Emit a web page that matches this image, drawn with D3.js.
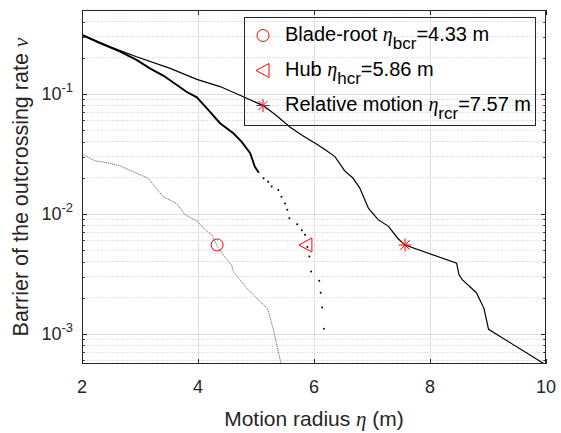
<!DOCTYPE html>
<html><head><meta charset="utf-8">
<script src="https://cdn.jsdelivr.net/npm/d3@7"></script>
<style>
body{margin:0;background:#fff}
svg{display:block}
text{font-family:"Liberation Sans",Arial,Helvetica,sans-serif;fill:#262626}
</style>
</head><body>
<svg id="c" width="561" height="433"></svg>
<script>
// ---------- data ----------
const xTicks = [2, 4, 6, 8, 10];
const yTicks = [1e-3, 1e-2, 1e-1];
const yTickExp = ["-3", "-2", "-1"];

// Relative motion curve
const relX = [2.0, 2.5, 2.94, 3.52, 3.98, 4.38, 4.84, 5.14, 5.35, 5.59, 5.8, 6.07, 6.2, 6.36, 6.53, 6.67, 6.79, 6.94, 7.11, 7.28, 7.45, 7.57, 8.46, 8.5, 8.56, 8.8, 8.93, 9.01, 10.0];
const relY = [0.31, 0.245, 0.204, 0.163, 0.132, 0.115, 0.092, 0.079, 0.066, 0.0527, 0.045, 0.0375, 0.034, 0.030, 0.0228, 0.0199, 0.0164, 0.0111, 0.0089, 0.0079, 0.0062, 0.0055, 0.00387, 0.0031, 0.00281, 0.0022, 0.00163, 0.00109, 0.00055];

// Hub curve: dense part (drawn as a thick line) and sparse points (dots)
const hubLineX = [2.0, 2.3, 2.66, 2.94, 3.17, 3.40, 3.63, 3.80, 3.98, 4.15, 4.38, 4.61, 4.75, 4.90, 4.98, 5.05];
const hubLineY = [0.31, 0.266, 0.225, 0.192, 0.163, 0.142, 0.119, 0.104, 0.0935, 0.0759, 0.0569, 0.0469, 0.040, 0.032, 0.0247, 0.022];
const hubDotX = [5.13, 5.21, 5.27, 5.385, 5.44, 5.50, 5.54, 5.575, 5.71, 5.79, 5.845, 5.885, 5.92, 5.95, 6.09, 6.115, 6.14, 6.17];
const hubDotY = [0.0198, 0.0185, 0.0169, 0.0158, 0.0139, 0.0122, 0.0108, 0.0092, 0.0082, 0.0073, 0.0067, 0.0053, 0.0044, 0.0033, 0.00277, 0.0022, 0.00166, 0.0011];

// Blade-root curve
const bladeX = [2.0, 2.22, 2.48, 2.66, 2.94, 3.14, 3.40, 3.63, 3.78, 4.0, 4.09, 4.24, 4.32, 4.44, 4.58, 4.61, 4.84, 5.04, 5.2, 5.30, 5.39, 5.45];
const bladeY = [0.0315, 0.0277, 0.0264, 0.0251, 0.0218, 0.0198, 0.0139, 0.0122, 0.0098, 0.0086, 0.0076, 0.0067, 0.0055, 0.0045, 0.00375, 0.0033, 0.0024, 0.00192, 0.00163, 0.00108, 0.00069, 0.00052];

// Critical markers
const markerNames = ["Blade-root ", "Hub ", "Relative motion "];
const markerSubs = ["bcr", "hcr", "rcr"];
const markerX = [4.33, 5.86, 7.57];
const markerY = [0.0055, 0.0055, 0.0055];
const markerShapes = ["circle", "triangle", "star"];

// ---------- layout ----------
const L = 82, R = 546, T = 10, B = 364;
const svg = d3.select("#c");
const x = d3.scaleLinear().domain([2, 10]).range([L, R]);
const y = d3.scaleLog().domain([5.6e-4, 0.5]).range([B, T]);
const axisColor = "#262626";

const minorY = [];
for (let e = -4; e <= -1; e++) for (let k = 2; k <= 9; k++) {
  const v = k * Math.pow(10, e);
  if (v >= y.domain()[0] && v <= y.domain()[1]) minorY.push(v);
}

// grid
const grid = svg.append("g");
grid.selectAll(".mg").data(minorY).enter().append("line")
  .attr("x1", L).attr("x2", R).attr("y1", d => y(d)).attr("y2", d => y(d))
  .attr("stroke", "#cfcfcf").attr("stroke-width", 1).attr("stroke-dasharray", "1 1.5");
grid.selectAll(".Mg").data(yTicks).enter().append("line")
  .attr("x1", L).attr("x2", R).attr("y1", d => Math.round(y(d)) + 0.5).attr("y2", d => Math.round(y(d)) + 0.5)
  .attr("stroke", "#dedede").attr("stroke-width", 1);
grid.selectAll(".Xg").data(xTicks.slice(1, -1)).enter().append("line")
  .attr("y1", T).attr("y2", B).attr("x1", d => Math.round(x(d)) + 0.5).attr("x2", d => Math.round(x(d)) + 0.5)
  .attr("stroke", "#dedede").attr("stroke-width", 1);

// clip
svg.append("clipPath").attr("id", "clip").append("rect")
  .attr("x", L).attr("y", T).attr("width", R - L).attr("height", B - T);
const plot = svg.append("g").attr("clip-path", "url(#clip)");

const line = d3.line().x(d => x(d[0])).y(d => y(d[1]));
const zip = (a, b) => a.map((v, i) => [v, b[i]]);

plot.append("path").datum(zip(bladeX, bladeY)).attr("d", line)
  .attr("fill", "none").attr("stroke", "#707070").attr("stroke-width", 1).attr("stroke-dasharray", "1.2 0.8");
plot.append("path").datum(zip(relX, relY)).attr("d", line)
  .attr("fill", "none").attr("stroke", "#000").attr("stroke-width", 1.2);
plot.append("path").datum(zip(hubLineX, hubLineY)).attr("d", line)
  .attr("fill", "none").attr("stroke", "#000").attr("stroke-width", 1.9);
plot.selectAll(".hd").data(zip(hubDotX, hubDotY)).enter().append("circle")
  .attr("cx", d => x(d[0])).attr("cy", d => y(d[1])).attr("r", 1).attr("fill", "#000");

// markers
function drawMarker(g, shape, cx, cy) {
  const red = "#ff0000";
  if (shape === "circle") {
    g.append("circle").attr("cx", cx).attr("cy", cy).attr("r", 6)
      .attr("fill", "none").attr("stroke", red).attr("stroke-width", 1);
  } else if (shape === "triangle") {
    g.append("path").attr("d", `M${cx - 7},${cy} L${cx + 6},${cy - 7} L${cx + 6},${cy + 7} Z`)
      .attr("fill", "none").attr("stroke", red).attr("stroke-width", 1);
  } else {
    const s = 6.5, d = 4.6;
    g.append("path").attr("d",
      `M${cx - s},${cy} L${cx + s},${cy} M${cx},${cy - s} L${cx},${cy + s} M${cx - d},${cy - d} L${cx + d},${cy + d} M${cx - d},${cy + d} L${cx + d},${cy - d}`)
      .attr("fill", "none").attr("stroke", red).attr("stroke-width", 1);
  }
}
const mg = svg.append("g");
markerX.forEach((mx, i) => drawMarker(mg, markerShapes[i], x(mx), y(markerY[i])));

// axes box and ticks
const ax = svg.append("g").attr("stroke", axisColor).attr("stroke-width", 1).attr("fill", "none");
ax.append("rect").attr("x", L + 0.5).attr("y", T + 0.5).attr("width", R - L - 1).attr("height", B - T - 1);
const tickLen = 5, minorLen = 2.7;
xTicks.forEach(t => {
  const px = Math.round(x(t)) + 0.5;
  ax.append("line").attr("x1", px).attr("x2", px).attr("y1", B).attr("y2", B - tickLen);
  ax.append("line").attr("x1", px).attr("x2", px).attr("y1", T).attr("y2", T + tickLen);
});
yTicks.forEach(t => {
  const py = Math.round(y(t)) + 0.5;
  ax.append("line").attr("x1", L).attr("x2", L + tickLen).attr("y1", py).attr("y2", py);
  ax.append("line").attr("x1", R).attr("x2", R - tickLen).attr("y1", py).attr("y2", py);
});
minorY.forEach(t => {
  const py = Math.round(y(t)) + 0.5;
  ax.append("line").attr("x1", L).attr("x2", L + minorLen).attr("y1", py).attr("y2", py);
  ax.append("line").attr("x1", R).attr("x2", R - minorLen).attr("y1", py).attr("y2", py);
});

// tick labels
svg.selectAll(".xl").data(xTicks).enter().append("text")
  .attr("x", d => x(d)).attr("y", 393).attr("text-anchor", "middle")
  .attr("font-size", 18).text(d => d);
yTicks.forEach((t, i) => {
  const tx = svg.append("text").attr("x", 73).attr("y", y(t) + 6.5)
    .attr("text-anchor", "end").attr("font-size", 18);
  tx.append("tspan").text("10");
  tx.append("tspan").attr("dy", -8).attr("font-size", 13).text(yTickExp[i]);
});

// axis labels
const xl = svg.append("text").attr("x", (L + R) / 2).attr("y", 426)
  .attr("text-anchor", "middle").attr("font-size", 21);
xl.append("tspan").text("Motion radius ");
xl.append("tspan").attr("font-family", "Liberation Serif").attr("font-style", "italic").text("η");
xl.append("tspan").text(" (m)");

const yl = svg.append("text").attr("transform", `translate(28,${(T + B) / 2}) rotate(-90)`)
  .attr("text-anchor", "middle").attr("font-size", 21.5);
yl.append("tspan").text("Barrier of the outcrossing rate ");
yl.append("tspan").attr("font-family", "Liberation Serif").attr("font-style", "italic").text("ν");

// legend (transparent box, as in the reference)
const lg = svg.append("g");
lg.append("rect").attr("x", 244.5).attr("y", 17.5).attr("width", 291).attr("height", 108)
  .attr("fill", "none").attr("stroke", axisColor).attr("stroke-width", 1);
const rowY = [41, 76, 111];
markerNames.forEach((name, i) => {
  drawMarker(lg, markerShapes[i], 263, rowY[i] - 5.5);
  const t = lg.append("text").attr("x", 285).attr("y", rowY[i]).attr("font-size", 20).attr("fill", "#000");
  t.append("tspan").attr("fill", "#000").text(name);
  t.append("tspan").attr("fill", "#000").attr("font-family", "Liberation Serif").attr("font-style", "italic").text("η");
  t.append("tspan").attr("fill", "#000").attr("dy", 8).attr("font-size", 17).text(markerSubs[i]);
  t.append("tspan").attr("fill", "#000").attr("dy", -8).text("=" + markerX[i].toFixed(2) + " m");
});
</script>
</body></html>
